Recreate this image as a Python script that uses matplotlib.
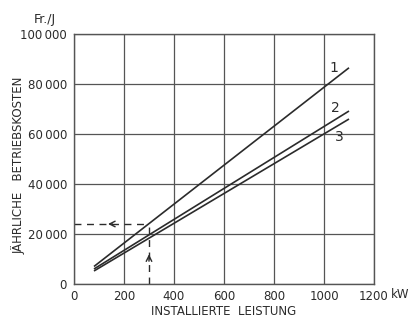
import numpy as np
import matplotlib.pyplot as plt

# Daten
leistung = [80, 1100]
kosten_1 = [7000, 86500]
kosten_2 = [6000, 69200]
kosten_3 = [5200, 66000]
kurven = [kosten_1, kosten_2, kosten_3]
kurven_namen = ['1', '2', '3']
namen_pos = [(1040, 86500), (1045, 70500), (1062, 59000)]

x_ticks = [0, 200, 400, 600, 800, 1000, 1200]
x_labels = ['0', '200', '400', '600', '800', '1000', '1200']
y_ticks = [0, 20000, 40000, 60000, 80000, 100000]
y_labels = ['0', '20\u2009000', '40\u2009000', '60\u2009000', '80\u2009000', '100\u2009000']

# Ablesebeispiel
bsp_x = 300
bsp_y = 24000

ink = '#2b2b2b'
grau = '#555555'

fig = plt.figure(figsize=(4.11, 3.18), dpi=100)
ax = fig.add_axes([0.180, 0.107, 0.730, 0.786])

for k in kurven:
    ax.plot(leistung, k, color=ink, lw=1.2, solid_capstyle='butt')
for name, (px, py) in zip(kurven_namen, namen_pos):
    ax.text(px, py, name, fontsize=10, color=ink, ha='center', va='center')

# gestrichelte Ablesehilfe
ax.plot([0, bsp_x], [bsp_y, bsp_y], color=ink, lw=1.0, dashes=(5, 4))
ax.plot([bsp_x, bsp_x], [0, bsp_y], color=ink, lw=1.0, dashes=(5, 4))
ax.annotate('', xy=(125, bsp_y), xytext=(165, bsp_y),
            arrowprops=dict(arrowstyle='->', color=ink, lw=1.0))
ax.annotate('', xy=(bsp_x, 13000), xytext=(bsp_x, 8000),
            arrowprops=dict(arrowstyle='->', color=ink, lw=1.0))

ax.set_xlim(0, 1200)
ax.set_ylim(0, 100000)
ax.set_xticks(x_ticks)
ax.set_xticklabels(x_labels)
ax.set_yticks(y_ticks)
ax.set_yticklabels(y_labels)
ax.tick_params(length=0, labelsize=8.5, colors=ink)
ax.tick_params(axis='x', pad=4)
ax.tick_params(axis='y', pad=5)
ax.grid(True, color=grau, lw=0.9)
for s in ax.spines.values():
    s.set_color(grau)
    s.set_linewidth(1.0)

ax.set_xlabel('INSTALLIERTE  LEISTUNG', fontsize=8.5, color=ink, labelpad=2)
ax.set_ylabel('JÄHRLICHE   BETRIEBSKOSTEN', fontsize=8.5, color=ink)
ax.yaxis.set_label_coords(-0.16, 0.476)
fig.text(45 / 411, 1 - 20 / 318, 'Fr./J', fontsize=9, color=ink, ha='center', va='center')
fig.text(391 / 411, 1 - 295 / 318, 'kW', fontsize=8.5, color=ink, ha='left', va='center')

fig.savefig('out.png', dpi=100)
